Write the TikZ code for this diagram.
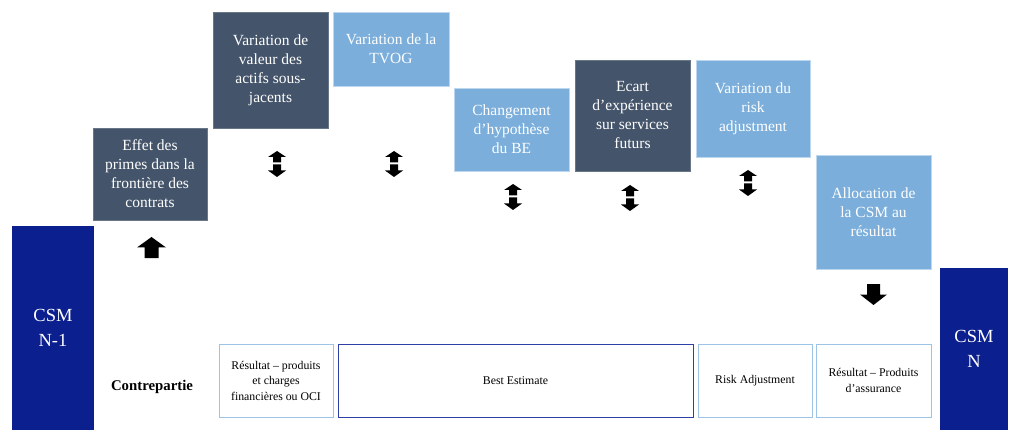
\documentclass[tikz,border=0pt]{standalone}
\usepackage{fontspec}
\setmainfont{Liberation Serif}
\definecolor{slate}{HTML}{44546A}
\definecolor{skyblue}{HTML}{7BAEDB}
\definecolor{navy}{HTML}{0B1F8E}
\definecolor{paleline}{HTML}{BDD7EE}
\definecolor{frameblue}{HTML}{9DC3E6}
\definecolor{deepline}{HTML}{2F3FA8}
\begin{document}
\begin{tikzpicture}[x=1pt,y=-1pt,
  stepbox/.style={draw=paleline, line width=0.6pt, text=white, align=center,
    inner sep=0pt, font=\fontsize{15.5}{19}\selectfont},
  darkbox/.style={stepbox, fill=slate, draw=slate!80!white},
  lightbox/.style={stepbox, fill=skyblue},
  csmbox/.style={fill=navy, text=white, align=center, inner sep=0pt,
    font=\fontsize{18.5}{25}\selectfont},
  sinkbox/.style={draw=frameblue, line width=0.8pt, fill=white, align=center,
    inner sep=0pt, minimum height=73pt, font=\fontsize{11.8}{15.5}\selectfont},
  updown/.pic={
    \fill (0,0) -- (9,6) -- (4,6) -- (4,11.5) -- (-4,11.5) -- (-4,6) -- (-9,6) -- cycle;
    \fill (0,26) -- (9,19.5) -- (4,19.5) -- (4,13.5) -- (-4,13.5) -- (-4,19.5) -- (-9,19.5) -- cycle;
  }
]
\useasboundingbox (0,0) rectangle (1011,430);

% opening and closing CSM
\node[csmbox, minimum width=82pt, minimum height=204pt] (csm1) at (53,328) {CSM\\N-1};
\node[csmbox, minimum width=68pt, minimum height=162pt] (csmn) at (974,349) {CSM\\N};

% movements of the CSM
\node[darkbox, minimum width=114pt, minimum height=92pt] (effet) at (150,174)
  {Effet des\\primes dans la\\frontière des\\contrats};
\node[darkbox, minimum width=115pt, minimum height=116pt] (valeur) at (270.5,70)
  {Variation de\\valeur des\\actifs sous-\\jacents};
\node[lightbox, minimum width=116pt, minimum height=74pt] (tvog) at (391,49)
  {Variation de la\\TVOG};
\node[lightbox, minimum width=115pt, minimum height=83pt] (hyp) at (511.5,129.5)
  {Changement\\d’hypothèse\\du BE};
\node[darkbox, minimum width=115pt, minimum height=111pt] (ecart) at (632.5,115.5)
  {Ecart\\d’expérience\\sur services\\futurs};
\node[lightbox, minimum width=114pt, minimum height=97pt] (risk) at (753,108.5)
  {Variation du\\risk\\adjustment};
\node[lightbox, minimum width=115pt, minimum height=114pt] (alloc) at (873.5,212)
  {Allocation de\\la CSM au\\résultat};

% counterparts
\node[font=\fontsize{14.8}{17}\selectfont\bfseries] (contre) at (152,387) {Contrepartie};
\node[sinkbox, minimum width=114pt] (fin) at (276,380.5)
  {Résultat – produits\\et charges\\financières ou OCI};
\node[sinkbox, draw=deepline, minimum width=355pt] (be) at (515.5,380.5) {Best Estimate};
\node[sinkbox, minimum width=114pt] (ra) at (755,380.5) {Risk Adjustment};
\node[sinkbox, minimum width=115pt] (prod) at (873.5,380.5)
  {Résultat – Produits\\d’assurance};

% direction arrows
\fill (151.5,237) -- (166,247.5) -- (158.5,247.5) -- (158.5,258) -- (144.5,258)
  -- (144.5,247.5) -- (137,247.5) -- cycle;
\fill (873.5,305) -- (887,294.5) -- (880,294.5) -- (880,284) -- (867,284)
  -- (867,294.5) -- (860,294.5) -- cycle;
\pic at (277,151) {updown};
\pic at (394,151) {updown};
\pic at (513,184) {updown};
\pic at (630,185) {updown};
\pic at (748,170) {updown};
\end{tikzpicture}
\end{document}
